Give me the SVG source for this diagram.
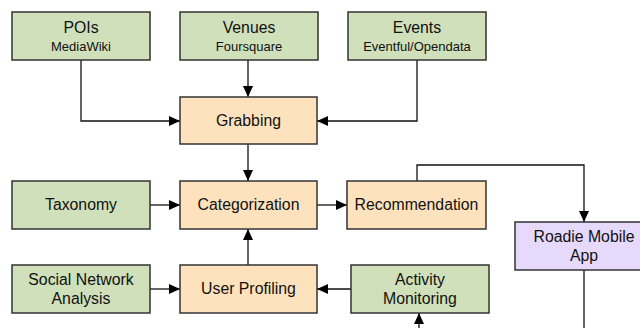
<svg xmlns="http://www.w3.org/2000/svg" width="640" height="328" viewBox="0 0 640 328">
<defs>
<marker id="ah" markerWidth="12" markerHeight="10" refX="11" refY="5" orient="auto" markerUnits="userSpaceOnUse">
<path d="M0,0 L11,5 L0,10 Z" fill="#000"/>
</marker>
<style>
.box{stroke:#333;stroke-width:1.5}
.g{fill:#cfe0bb}
.o{fill:#fee2bd}
.p{fill:#e6d9fb}
text{font-family:"Liberation Sans",Arial,sans-serif;fill:#111;text-anchor:middle}
.t{font-size:15.8px}
.s{font-size:13px}
.c{fill:none;stroke:#111;stroke-width:1.3;marker-end:url(#ah)}
.cn{fill:none;stroke:#111;stroke-width:1.3}
</style>
</defs>
<rect width="640" height="328" fill="#fff"/>
<g id="connectors">
<path class="c" d="M81,60 V121 H180"/>
<path class="c" d="M248,60 V97"/>
<path class="c" d="M417,60 V121 H317"/>
<path class="c" d="M248,144 V181"/>
<path class="c" d="M150,205 H180"/>
<path class="c" d="M317,205 H347"/>
<path class="c" d="M417,181 V165 H584 V222"/>
<path class="c" d="M248,265 V229"/>
<path class="c" d="M150,289 H180"/>
<path class="c" d="M351,289 H317"/>
<path class="c" d="M419,340 V313"/>
<path class="cn" d="M584,270 V340"/>
</g>
<g id="pois"><rect class="box g" x="12" y="12" width="138" height="48"/><text class="t" x="81" y="33">POIs</text><text class="s" x="81" y="51">MediaWiki</text></g>
<g id="venues"><rect class="box g" x="180" y="12" width="138" height="48"/><text class="t" x="249" y="33">Venues</text><text class="s" x="249" y="51">Foursquare</text></g>
<g id="events"><rect class="box g" x="348" y="12" width="138" height="48"/><text class="t" x="417" y="33">Events</text><text class="s" x="417" y="51">Eventful/Opendata</text></g>
<g id="grabbing"><rect class="box o" x="180" y="97" width="137" height="47"/><text class="t" x="248.5" y="126">Grabbing</text></g>
<g id="taxonomy"><rect class="box g" x="12" y="181" width="138" height="48"/><text class="t" x="81" y="210">Taxonomy</text></g>
<g id="categorization"><rect class="box o" x="180" y="181" width="137" height="48"/><text class="t" x="248.5" y="210">Categorization</text></g>
<g id="recommendation"><rect class="box o" x="347" y="181" width="139" height="48"/><text class="t" x="416.5" y="210">Recommendation</text></g>
<g id="roadie"><rect class="box p" x="515" y="222" width="138" height="48"/><text class="t" x="584" y="242">Roadie Mobile</text><text class="t" x="584" y="261">App</text></g>
<g id="sna"><rect class="box g" x="12" y="265" width="138" height="48"/><text class="t" x="81" y="285">Social Network</text><text class="t" x="81" y="304">Analysis</text></g>
<g id="profiling"><rect class="box o" x="180" y="265" width="137" height="48"/><text class="t" x="248.5" y="294">User Profiling</text></g>
<g id="activity"><rect class="box g" x="351" y="265" width="138" height="48"/><text class="t" x="420" y="285">Activity</text><text class="t" x="420" y="304">Monitoring</text></g>
</svg>
